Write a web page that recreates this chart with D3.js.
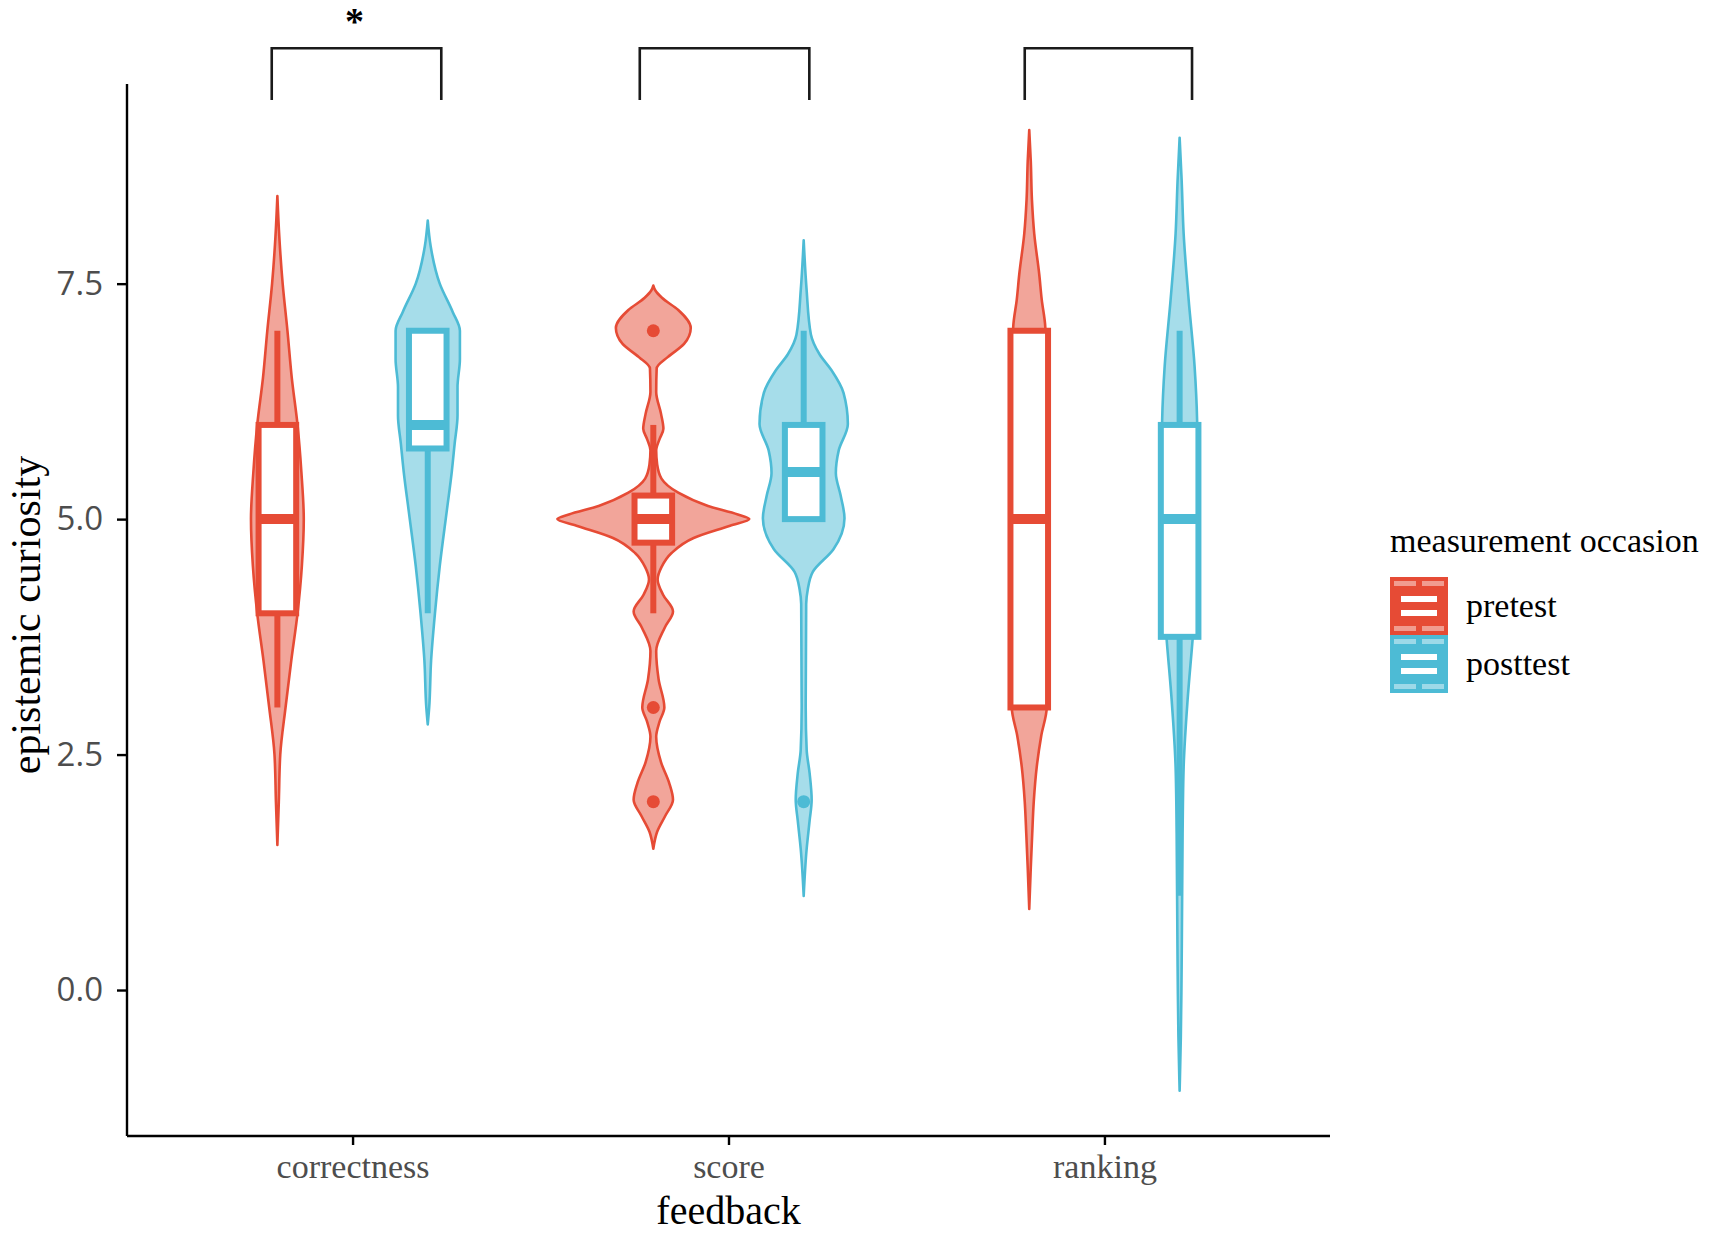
<!DOCTYPE html>
<html>
<head>
<meta charset="utf-8">
<script src="https://cdn.jsdelivr.net/npm/d3@7"></script>
<style>
  html, body { margin: 0; padding: 0; background: #ffffff; }
  svg { display: block; }
</style>
</head>
<body>
<svg id="chart" width="1713" height="1233"></svg>
<script>
// ---------------- DATA ----------------
const categories = ["correctness", "score", "ranking"];
const groups = ["pretest", "posttest"];
const groupColors = ["#E64B35", "#4DBBD5"];
const yTicks = [0, 2.5, 5, 7.5];

// box statistics [category][group]
const q1        = [[4.0, 5.75], [4.75, 5.0], [3.0, 3.75]];
const medians   = [[5.0, 6.0],  [5.0, 5.5],  [5.0, 5.0]];
const q3        = [[6.0, 7.0],  [5.25, 6.0], [7.0, 6.0]];
const whiskerLo = [[3.0, 4.0],  [4.0, 5.0],  [3.0, 1.0]];
const whiskerHi = [[7.0, 7.0],  [6.0, 7.0],  [7.0, 7.0]];
const outliers  = [[[], []], [[7, 3, 2], [2]], [[], []]];

// violin profiles: [value, relative density]
const violinCorrectnessPre = [[8.43,0],[8.0,0.02],[7.5,0.055],[7.0,0.105],[6.5,0.15],[6.0,0.21],[5.5,0.25],[5.0,0.275],[4.5,0.255],[4.0,0.21],[3.5,0.145],[3.0,0.085],[2.5,0.03],[2.0,0.015],[1.54,0]];
const violinCorrectnessPost = [[8.17,0],[7.9,0.03],[7.5,0.125],[7.2,0.26],[7.0,0.335],[6.7,0.335],[6.4,0.31],[6.1,0.31],[5.8,0.28],[5.5,0.25],[5.1,0.2],[4.5,0.125],[4.0,0.075],[3.5,0.035],[3.0,0.015],[2.82,0]];
const violinScorePre = [[7.48,0],[7.43,0.02],[7.35,0.09],[7.22,0.26],[7.03,0.39],[6.86,0.32],[6.72,0.15],[6.6,0.035],[6.35,0.03],[6.12,0.08],[5.96,0.105],[5.85,0.065],[5.73,0.03],[5.58,0.04],[5.43,0.085],[5.28,0.26],[5.14,0.57],[5.05,0.88],[5.0,1.0],[4.93,0.8],[4.8,0.42],[4.64,0.19],[4.49,0.085],[4.36,0.045],[4.2,0.1],[4.02,0.205],[3.85,0.12],[3.6,0.03],[3.3,0.055],[3.0,0.115],[2.85,0.065],[2.69,0.03],[2.42,0.08],[2.2,0.165],[2.02,0.205],[1.85,0.125],[1.68,0.04],[1.5,0]];
const violinScorePost = [[7.96,0],[7.44,0.03],[6.96,0.075],[6.75,0.165],[6.58,0.29],[6.34,0.415],[6.01,0.46],[5.73,0.365],[5.49,0.335],[5.25,0.385],[5.01,0.425],[4.68,0.31],[4.44,0.095],[4.25,0.042],[4.1,0.026],[3.0,0.021],[2.55,0.031],[2.3,0.062],[2.02,0.083],[1.8,0.062],[1.5,0.031],[1.0,0]];
const violinRankingPre = [[9.13,0],[8.8,0.016],[8.39,0.028],[8.03,0.052],[7.6,0.104],[7.33,0.13],[7.04,0.167],[6.0,0.19],[5.0,0.2],[4.0,0.19],[3.0,0.182],[2.7,0.125],[2.37,0.078],[2.0,0.047],[1.66,0.031],[1.3,0.016],[0.86,0]];
const violinRankingPost = [[9.05,0],[8.6,0.021],[8.03,0.042],[7.33,0.094],[6.62,0.156],[6.05,0.182],[5.5,0.188],[5.0,0.188],[4.5,0.177],[4.0,0.156],[3.72,0.135],[3.08,0.083],[2.37,0.042],[1.66,0.031],[0.96,0.026],[0.25,0.021],[-0.5,0.0125],[-1.07,0]];
const violins = [
  [violinCorrectnessPre, violinCorrectnessPost],
  [violinScorePre, violinScorePost],
  [violinRankingPre, violinRankingPost]
];

// significance brackets per category (extent in category units)
const bracketLabels = ["*", "", ""];
const bracketLeft  = [-0.215, -0.236, -0.212];
const bracketRight = [0.236, 0.215, 0.233];
const bracketTop = 10.0;
const bracketBottom = 9.45;
const starValue = 10.33;

// ---------------- LAYOUT ----------------
const svg = d3.select("#chart");
const panel = { left: 127, right: 1330, top: 84, bottom: 1136 };

const x = d3.scalePoint().domain(categories).range([panel.left, panel.right]).padding(0.6);
const step = x.step();
const dodge = d3.scalePoint().domain(groups).range([-0.2 * step, 0.2 * step]);
const y = d3.scaleLinear().domain([-1.55, 9.62]).range([panel.bottom, panel.top]);
const w = d3.scaleLinear().domain([0, 1]).range([0, 96]);
const color = d3.scaleOrdinal().domain(groups).range(groupColors);
const boxHalf = 0.05 * step;

const serif = "'Liberation Serif', 'Times New Roman', serif";
const sans = "'Open Sans', 'Noto Sans', sans-serif";

const plot = svg.append("g");

// violins
const area = d3.area()
  .y(d => y(d[0]))
  .curve(d3.curveMonotoneY);

categories.forEach((cat, ci) => {
  groups.forEach((grp, gi) => {
    const cx = x(cat) + dodge(grp);
    const col = color(grp);
    area.x0(d => cx - w(d[1])).x1(d => cx + w(d[1]));
    plot.append("path")
      .attr("d", area(violins[ci][gi]))
      .attr("fill", col)
      .attr("fill-opacity", 0.5)
      .attr("stroke", col)
      .attr("stroke-width", 2.6)
      .attr("stroke-linejoin", "round");
  });
});

// boxplots
categories.forEach((cat, ci) => {
  groups.forEach((grp, gi) => {
    const cx = x(cat) + dodge(grp);
    const col = color(grp);
    const g = plot.append("g");
    if (whiskerHi[ci][gi] > q3[ci][gi]) {
      g.append("line").attr("x1", cx).attr("x2", cx)
        .attr("y1", y(q3[ci][gi])).attr("y2", y(whiskerHi[ci][gi]))
        .attr("stroke", col).attr("stroke-width", 6);
    }
    if (whiskerLo[ci][gi] < q1[ci][gi]) {
      g.append("line").attr("x1", cx).attr("x2", cx)
        .attr("y1", y(q1[ci][gi])).attr("y2", y(whiskerLo[ci][gi]))
        .attr("stroke", col).attr("stroke-width", 6);
    }
    g.append("rect")
      .attr("x", cx - boxHalf).attr("width", 2 * boxHalf)
      .attr("y", y(q3[ci][gi])).attr("height", y(q1[ci][gi]) - y(q3[ci][gi]))
      .attr("fill", "#ffffff").attr("stroke", col).attr("stroke-width", 6);
    g.append("line")
      .attr("x1", cx - boxHalf).attr("x2", cx + boxHalf)
      .attr("y1", y(medians[ci][gi])).attr("y2", y(medians[ci][gi]))
      .attr("stroke", col).attr("stroke-width", 10);
    outliers[ci][gi].forEach(v => {
      g.append("circle").attr("cx", cx).attr("cy", y(v)).attr("r", 6.5).attr("fill", col);
    });
  });
});

// axes
const xAxis = d3.axisBottom(x).tickSize(9).tickSizeOuter(0).tickPadding(9);
const gx = svg.append("g").attr("transform", `translate(0,${panel.bottom})`).call(xAxis);
gx.select(".domain").attr("stroke", "#000").attr("stroke-width", 2.4)
  .attr("d", `M${panel.left},0H${panel.right}`);
gx.selectAll(".tick line").attr("stroke", "#000").attr("stroke-width", 2.4);
gx.selectAll(".tick text").attr("font-family", serif).attr("font-size", 34).attr("fill", "#4d4d4d");

const yAxis = d3.axisLeft(y).tickValues(yTicks).tickFormat(d3.format(".1f")).tickSize(10).tickSizeOuter(0).tickPadding(14);
const gy = svg.append("g").attr("transform", `translate(${panel.left},0)`).call(yAxis);
gy.select(".domain").attr("stroke", "#000").attr("stroke-width", 2.4)
  .attr("d", `M0,${panel.top}V${panel.bottom}`);
gy.selectAll(".tick line").attr("stroke", "#000").attr("stroke-width", 2.4);
gy.selectAll(".tick text").attr("font-family", sans).attr("font-size", 33).attr("fill", "#4d4d4d");

// axis titles
svg.append("text")
  .attr("x", (panel.left + panel.right) / 2).attr("y", 1224)
  .attr("text-anchor", "middle")
  .attr("font-family", serif).attr("font-size", 40).attr("fill", "#000")
  .text("feedback");
svg.append("text")
  .attr("transform", `translate(40,${(panel.top + panel.bottom) / 2 + 5}) rotate(-90)`)
  .attr("text-anchor", "middle")
  .attr("font-family", serif).attr("font-size", 42).attr("fill", "#000")
  .text("epistemic curiosity");

// significance brackets
categories.forEach((cat, ci) => {
  const x0 = x(cat) + bracketLeft[ci] * step;
  const x1 = x(cat) + bracketRight[ci] * step;
  svg.append("path")
    .attr("d", `M${x0},${y(bracketBottom)}V${y(bracketTop)}H${x1}V${y(bracketBottom)}`)
    .attr("fill", "none").attr("stroke", "#1a1a1a").attr("stroke-width", 2.6);
  if (bracketLabels[ci]) {
    svg.append("text")
      .attr("x", x(cat) + 2).attr("y", y(starValue) + 17)
      .attr("text-anchor", "middle")
      .attr("font-family", serif).attr("font-size", 38).attr("font-weight", "bold").attr("fill", "#000")
      .text(bracketLabels[ci]);
  }
});

// legend
const legend = svg.append("g").attr("transform", "translate(1390,0)");
legend.append("text").attr("x", 0).attr("y", 552)
  .attr("font-family", serif).attr("font-size", 34).attr("fill", "#000")
  .text("measurement occasion");
groups.forEach((grp, gi) => {
  const ky = 577 + gi * 58;
  const col = color(grp);
  const k = legend.append("g").attr("transform", `translate(0,${ky})`);
  k.append("rect").attr("width", 58).attr("height", 58).attr("fill", col);
  [[4, 22], [32, 22]].forEach(([sx, sw]) => {
    k.append("rect").attr("x", sx).attr("y", 4).attr("width", sw).attr("height", 5).attr("fill", "#ffffff").attr("fill-opacity", 0.45);
    k.append("rect").attr("x", sx).attr("y", 49).attr("width", sw).attr("height", 5).attr("fill", "#ffffff").attr("fill-opacity", 0.45);
  });
  k.append("rect").attr("x", 11).attr("y", 19).attr("width", 36).attr("height", 6).attr("fill", "#ffffff");
  k.append("rect").attr("x", 11).attr("y", 33).attr("width", 36).attr("height", 6).attr("fill", "#ffffff");
  legend.append("text").attr("x", 76).attr("y", ky + 40)
    .attr("font-family", serif).attr("font-size", 34).attr("fill", "#000")
    .text(grp);
});
</script>
</body>
</html>
